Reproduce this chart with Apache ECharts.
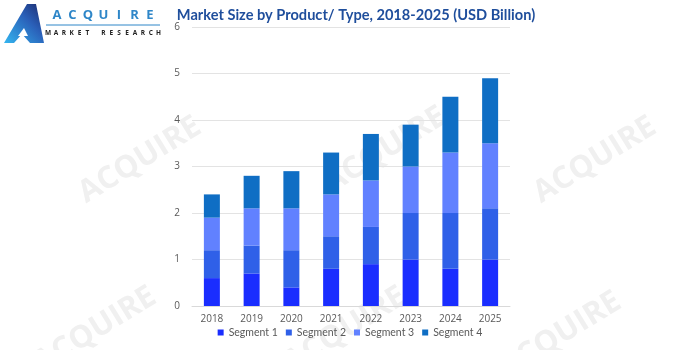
<!DOCTYPE html>
<html><head><meta charset="utf-8">
<script src="https://cdn.jsdelivr.net/npm/echarts@6/dist/echarts.min.js"></script>
<style>html,body{margin:0;padding:0;background:#fff}#c{width:700px;height:350px}</style>
</head><body><div id="c"></div>
<script>
const categories = ['2018','2019','2020','2021','2022','2023','2024','2025'];
const seriesNames = ['Segment 1','Segment 2','Segment 3','Segment 4'];
const segment1 = [0.6, 0.7, 0.4, 0.8, 0.9, 1.0, 0.8, 1.0];
const segment2 = [0.6, 0.6, 0.8, 0.7, 0.8, 1.0, 1.2, 1.1];
const segment3 = [0.7, 0.8, 0.9, 0.9, 1.0, 1.0, 1.3, 1.4];
const segment4 = [0.5, 0.7, 0.8, 0.9, 1.0, 0.9, 1.2, 1.4];
const colors = ['#1a2dff', '#2f60e8', '#6181ff', '#0f6ec4'];
const titleText = 'Market Size by Product/ Type, 2018-2025 (USD Billion)';
const logoTop = 'ACQUIRE';
const logoBottom = 'MARKET RESEARCH';

const chart = echarts.init(document.getElementById('c'), null, {renderer:'canvas'});
const values = [segment1, segment2, segment3, segment4];

const gfx = [];
const wmPos = [[140,160],[385,150],[595,160],[95,330],[345,330],[560,335]];
wmPos.forEach(p => gfx.push({
  type:'text', x:p[0], y:p[1], rotation: 0.55, z:-10, silent:true,
  style:{text:'ACQUIRE', fill:'#f0f0f0', font:'bold 31px "Open Sans"', align:'center', verticalAlign:'middle'}
}));
logoTop.split('').forEach((ch,i) => gfx.push({type:'text', x:57+i*15.5, y:15, z:10,
  style:{text:ch, fill:'#2e86c8', font:'bold 13px "Open Sans"', align:'center', verticalAlign:'middle'}}));
logoBottom.split('').forEach((ch,i) => gfx.push({type:'text', x:48+i*7.9, y:33, z:10,
  style:{text:ch, fill:'#222', font:'bold 6.5px "Open Sans"', align:'center', verticalAlign:'middle'}}));

const option = {
  backgroundColor:'#ffffff',
  animation:false,
  color: colors,
  title:{text:titleText, left:351, textAlign:'center', top:3,
    textStyle:{fontFamily:'Lato', fontWeight:'bold', fontSize:14.6, color:'#1f4e9c'}},
  grid:{left:192, right:190, top:27, bottom:44},
  legend:{bottom:7, left:'center', itemWidth:6, itemHeight:6, itemGap:8, icon:'rect',
    textStyle:{fontFamily:'Lato', fontSize:10.5, color:'#595959'}, data:seriesNames},
  xAxis:{type:'category', data:categories,
    axisLine:{lineStyle:{color:'#d9d9d9'}}, axisTick:{show:false},
    axisLabel:{color:'#595959', fontSize:10, fontFamily:'Open Sans', margin:8}},
  yAxis:{type:'value', min:0, max:6, interval:1,
    axisLabel:{color:'#595959', fontSize:10, fontFamily:'Open Sans', margin:12},
    splitLine:{lineStyle:{color:'#e3e3e3'}}, axisLine:{show:false}, axisTick:{show:false}},
  series: seriesNames.map((n,i)=>({name:n, type:'bar', stack:'total', barWidth:16, data:values[i],
    itemStyle:{color:colors[i]}})),
  graphic: gfx.concat([
    {type:'polygon', shape:{points:[[4,43],[27,4],[36,4],[44,43],[30,43],[22,34],[14,43]]}, z:10,
      style:{fill:new echarts.graphic.LinearGradient(0,1,1,0,[{offset:0,color:'#34b6f0'},{offset:0.6,color:'#2a5fb8'},{offset:1,color:'#1c2a6b'}])}},
    {type:'polygon', shape:{points:[[18,36],[24,28],[28,36]]}, z:11, style:{fill:'#ffffff'}},
    {type:'line', shape:{x1:46, y1:25, x2:160, y2:25}, z:10, style:{stroke:'#2e86c8', lineWidth:1}}
  ])
};
chart.setOption(option);
</script></body></html>
